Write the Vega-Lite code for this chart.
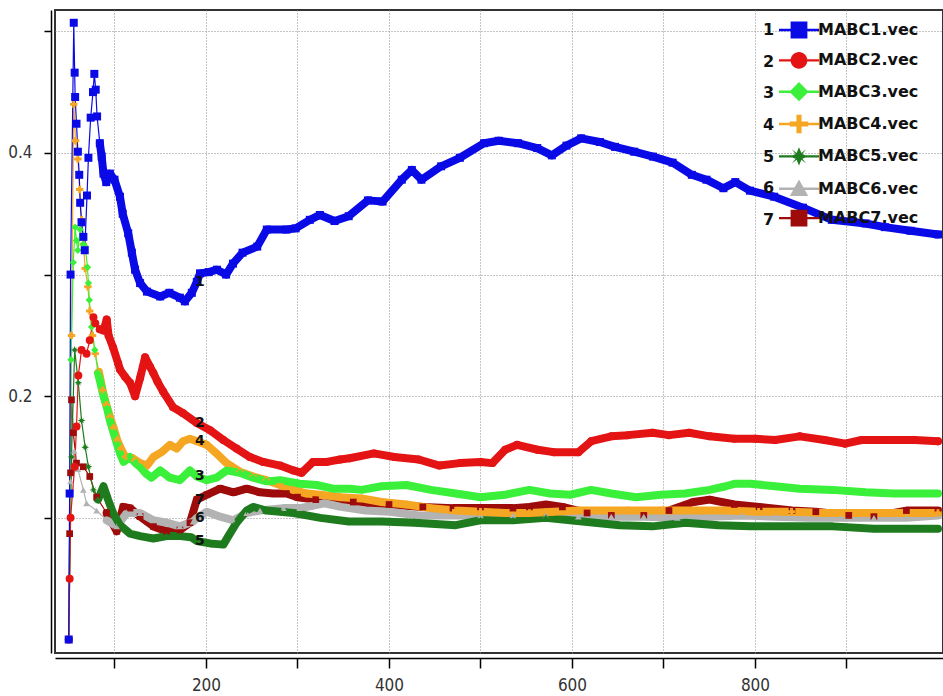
{
  "$schema": "https://vega.github.io/schema/vega-lite/v6.json",
  "width": 888,
  "height": 643,
  "autosize": "none",
  "padding": {"left": 55, "top": 10, "right": 0, "bottom": 43},
  "background": "white",
  "config": {
    "view": {"stroke": "#333", "strokeWidth": 2},
    "legend": {"padding": 0}
  },
  "data": {"values": [
    {"s":"MABC7.vec","n":"7","x":50,"y":0},{"s":"MABC7.vec","n":"7","x":51,"y":0.087},{"s":"MABC7.vec","n":"7","x":52,"y":0.137},{"s":"MABC7.vec","n":"7","x":53,"y":0.197},{"s":"MABC7.vec","n":"7","x":55,"y":0.17},{"s":"MABC7.vec","n":"7","x":58.5,"y":0.145},{"s":"MABC7.vec","n":"7","x":66,"y":0.142},{"s":"MABC7.vec","n":"7","x":73,"y":0.134},{"s":"MABC7.vec","n":"7","x":80.5,"y":0.117},{"s":"MABC7.vec","n":"7","x":91.5,"y":0.104},{"s":"MABC7.vec","n":"7","x":102.5,"y":0.089},{"s":"MABC7.vec","n":"7","x":109.5,"y":0.109},{"s":"MABC7.vec","n":"7","x":117,"y":0.108},{"s":"MABC7.vec","n":"7","x":128,"y":0.101},{"s":"MABC7.vec","n":"7","x":142.5,"y":0.093},{"s":"MABC7.vec","n":"7","x":157,"y":0.089},{"s":"MABC7.vec","n":"7","x":171.5,"y":0.09},{"s":"MABC7.vec","n":"7","x":182.5,"y":0.096},{"s":"MABC7.vec","n":"7","x":190,"y":0.115},{"s":"MABC7.vec","n":"7","x":201,"y":0.119},{"s":"MABC7.vec","n":"7","x":215.5,"y":0.124},{"s":"MABC7.vec","n":"7","x":230,"y":0.121},{"s":"MABC7.vec","n":"7","x":244.5,"y":0.124},{"s":"MABC7.vec","n":"7","x":259,"y":0.121},{"s":"MABC7.vec","n":"7","x":273.5,"y":0.12},{"s":"MABC7.vec","n":"7","x":288,"y":0.12},{"s":"MABC7.vec","n":"7","x":300,"y":0.117},{"s":"MABC7.vec","n":"7","x":320,"y":0.115},{"s":"MABC7.vec","n":"7","x":361,"y":0.113},{"s":"MABC7.vec","n":"7","x":400,"y":0.111},{"s":"MABC7.vec","n":"7","x":437,"y":0.109},{"s":"MABC7.vec","n":"7","x":470,"y":0.108},{"s":"MABC7.vec","n":"7","x":500,"y":0.108},{"s":"MABC7.vec","n":"7","x":535.5,"y":0.108},{"s":"MABC7.vec","n":"7","x":553.5,"y":0.109},{"s":"MABC7.vec","n":"7","x":571.5,"y":0.111},{"s":"MABC7.vec","n":"7","x":589.5,"y":0.109},{"s":"MABC7.vec","n":"7","x":616.5,"y":0.104},{"s":"MABC7.vec","n":"7","x":643,"y":0.102},{"s":"MABC7.vec","n":"7","x":678.5,"y":0.102},{"s":"MABC7.vec","n":"7","x":706,"y":0.106},{"s":"MABC7.vec","n":"7","x":732.5,"y":0.113},{"s":"MABC7.vec","n":"7","x":750.5,"y":0.115},{"s":"MABC7.vec","n":"7","x":777.5,"y":0.111},{"s":"MABC7.vec","n":"7","x":804.5,"y":0.109},{"s":"MABC7.vec","n":"7","x":840.5,"y":0.106},{"s":"MABC7.vec","n":"7","x":866.5,"y":0.105},{"s":"MABC7.vec","n":"7","x":902.5,"y":0.102},{"s":"MABC7.vec","n":"7","x":930,"y":0.101},{"s":"MABC7.vec","n":"7","x":965.5,"y":0.106},{"s":"MABC7.vec","n":"7","x":1000,"y":0.106},

    {"s":"MABC6.vec","n":"6","x":50,"y":0},{"s":"MABC6.vec","n":"6","x":52,"y":0.13},{"s":"MABC6.vec","n":"6","x":56,"y":0.155},{"s":"MABC6.vec","n":"6","x":60,"y":0.14},{"s":"MABC6.vec","n":"6","x":66,"y":0.123},{"s":"MABC6.vec","n":"6","x":69.5,"y":0.112},{"s":"MABC6.vec","n":"6","x":80.5,"y":0.106},{"s":"MABC6.vec","n":"6","x":91.5,"y":0.098},{"s":"MABC6.vec","n":"6","x":102.5,"y":0.093},{"s":"MABC6.vec","n":"6","x":113.5,"y":0.104},{"s":"MABC6.vec","n":"6","x":128,"y":0.104},{"s":"MABC6.vec","n":"6","x":142.5,"y":0.098},{"s":"MABC6.vec","n":"6","x":157,"y":0.096},{"s":"MABC6.vec","n":"6","x":171.5,"y":0.093},{"s":"MABC6.vec","n":"6","x":186,"y":0.097},{"s":"MABC6.vec","n":"6","x":190,"y":0.1},{"s":"MABC6.vec","n":"6","x":201,"y":0.105},{"s":"MABC6.vec","n":"6","x":215.5,"y":0.101},{"s":"MABC6.vec","n":"6","x":230,"y":0.098},{"s":"MABC6.vec","n":"6","x":244.5,"y":0.104},{"s":"MABC6.vec","n":"6","x":259,"y":0.106},{"s":"MABC6.vec","n":"6","x":284.5,"y":0.108},{"s":"MABC6.vec","n":"6","x":302.5,"y":0.108},{"s":"MABC6.vec","n":"6","x":317,"y":0.11},{"s":"MABC6.vec","n":"6","x":329.5,"y":0.112},{"s":"MABC6.vec","n":"6","x":347.5,"y":0.109},{"s":"MABC6.vec","n":"6","x":374.5,"y":0.106},{"s":"MABC6.vec","n":"6","x":401,"y":0.105},{"s":"MABC6.vec","n":"6","x":432.5,"y":0.102},{"s":"MABC6.vec","n":"6","x":464,"y":0.102},{"s":"MABC6.vec","n":"6","x":500,"y":0.102},{"s":"MABC6.vec","n":"6","x":535.5,"y":0.102},{"s":"MABC6.vec","n":"6","x":571.5,"y":0.102},{"s":"MABC6.vec","n":"6","x":607,"y":0.101},{"s":"MABC6.vec","n":"6","x":643,"y":0.101},{"s":"MABC6.vec","n":"6","x":678.5,"y":0.101},{"s":"MABC6.vec","n":"6","x":715,"y":0.1},{"s":"MABC6.vec","n":"6","x":750.5,"y":0.101},{"s":"MABC6.vec","n":"6","x":786.5,"y":0.102},{"s":"MABC6.vec","n":"6","x":822,"y":0.101},{"s":"MABC6.vec","n":"6","x":858,"y":0.1},{"s":"MABC6.vec","n":"6","x":894,"y":0.1},{"s":"MABC6.vec","n":"6","x":930,"y":0.1},{"s":"MABC6.vec","n":"6","x":965.5,"y":0.1},{"s":"MABC6.vec","n":"6","x":1000,"y":0.102},

    {"s":"MABC5.vec","n":"5","x":50,"y":0},{"s":"MABC5.vec","n":"5","x":53,"y":0.15},{"s":"MABC5.vec","n":"5","x":56.5,"y":0.238},{"s":"MABC5.vec","n":"5","x":60.5,"y":0.211},{"s":"MABC5.vec","n":"5","x":64,"y":0.18},{"s":"MABC5.vec","n":"5","x":68,"y":0.158},{"s":"MABC5.vec","n":"5","x":71.5,"y":0.142},{"s":"MABC5.vec","n":"5","x":77,"y":0.123},{"s":"MABC5.vec","n":"5","x":82,"y":0.115},{"s":"MABC5.vec","n":"5","x":88,"y":0.126},{"s":"MABC5.vec","n":"5","x":93,"y":0.115},{"s":"MABC5.vec","n":"5","x":98.5,"y":0.104},{"s":"MABC5.vec","n":"5","x":106,"y":0.094},{"s":"MABC5.vec","n":"5","x":117,"y":0.087},{"s":"MABC5.vec","n":"5","x":128,"y":0.085},{"s":"MABC5.vec","n":"5","x":142.5,"y":0.083},{"s":"MABC5.vec","n":"5","x":157,"y":0.085},{"s":"MABC5.vec","n":"5","x":172,"y":0.085},{"s":"MABC5.vec","n":"5","x":184,"y":0.084},{"s":"MABC5.vec","n":"5","x":190,"y":0.081},{"s":"MABC5.vec","n":"5","x":204.5,"y":0.079},{"s":"MABC5.vec","n":"5","x":219,"y":0.078},{"s":"MABC5.vec","n":"5","x":224.5,"y":0.085},{"s":"MABC5.vec","n":"5","x":233.5,"y":0.096},{"s":"MABC5.vec","n":"5","x":244.5,"y":0.106},{"s":"MABC5.vec","n":"5","x":251.5,"y":0.109},{"s":"MABC5.vec","n":"5","x":266,"y":0.106},{"s":"MABC5.vec","n":"5","x":281,"y":0.105},{"s":"MABC5.vec","n":"5","x":295.5,"y":0.104},{"s":"MABC5.vec","n":"5","x":310,"y":0.102},{"s":"MABC5.vec","n":"5","x":325,"y":0.1},{"s":"MABC5.vec","n":"5","x":356,"y":0.097},{"s":"MABC5.vec","n":"5","x":392,"y":0.097},{"s":"MABC5.vec","n":"5","x":428,"y":0.096},{"s":"MABC5.vec","n":"5","x":473,"y":0.094},{"s":"MABC5.vec","n":"5","x":500,"y":0.098},{"s":"MABC5.vec","n":"5","x":535.5,"y":0.098},{"s":"MABC5.vec","n":"5","x":571.5,"y":0.1},{"s":"MABC5.vec","n":"5","x":598,"y":0.098},{"s":"MABC5.vec","n":"5","x":625,"y":0.096},{"s":"MABC5.vec","n":"5","x":652,"y":0.094},{"s":"MABC5.vec","n":"5","x":688,"y":0.093},{"s":"MABC5.vec","n":"5","x":724,"y":0.096},{"s":"MABC5.vec","n":"5","x":760,"y":0.094},{"s":"MABC5.vec","n":"5","x":795.5,"y":0.093},{"s":"MABC5.vec","n":"5","x":840,"y":0.093},{"s":"MABC5.vec","n":"5","x":885,"y":0.093},{"s":"MABC5.vec","n":"5","x":930,"y":0.091},{"s":"MABC5.vec","n":"5","x":1000,"y":0.091},

    {"s":"MABC4.vec","n":"4","x":50,"y":0},{"s":"MABC4.vec","n":"4","x":53,"y":0.25},{"s":"MABC4.vec","n":"4","x":55.5,"y":0.44},{"s":"MABC4.vec","n":"4","x":57.5,"y":0.41},{"s":"MABC4.vec","n":"4","x":60,"y":0.395},{"s":"MABC4.vec","n":"4","x":62,"y":0.37},{"s":"MABC4.vec","n":"4","x":64,"y":0.345},{"s":"MABC4.vec","n":"4","x":66,"y":0.325},{"s":"MABC4.vec","n":"4","x":68,"y":0.305},{"s":"MABC4.vec","n":"4","x":71,"y":0.29},{"s":"MABC4.vec","n":"4","x":73,"y":0.27},{"s":"MABC4.vec","n":"4","x":76,"y":0.25},{"s":"MABC4.vec","n":"4","x":79,"y":0.235},{"s":"MABC4.vec","n":"4","x":83,"y":0.22},{"s":"MABC4.vec","n":"4","x":87,"y":0.205},{"s":"MABC4.vec","n":"4","x":91,"y":0.193},{"s":"MABC4.vec","n":"4","x":95,"y":0.183},{"s":"MABC4.vec","n":"4","x":99,"y":0.174},{"s":"MABC4.vec","n":"4","x":103,"y":0.164},{"s":"MABC4.vec","n":"4","x":107,"y":0.157},{"s":"MABC4.vec","n":"4","x":112,"y":0.15},{"s":"MABC4.vec","n":"4","x":120,"y":0.149},{"s":"MABC4.vec","n":"4","x":128,"y":0.145},{"s":"MABC4.vec","n":"4","x":135.5,"y":0.143},{"s":"MABC4.vec","n":"4","x":142.5,"y":0.15},{"s":"MABC4.vec","n":"4","x":151.5,"y":0.154},{"s":"MABC4.vec","n":"4","x":160.5,"y":0.16},{"s":"MABC4.vec","n":"4","x":168,"y":0.157},{"s":"MABC4.vec","n":"4","x":175,"y":0.163},{"s":"MABC4.vec","n":"4","x":182.5,"y":0.165},{"s":"MABC4.vec","n":"4","x":190,"y":0.163},{"s":"MABC4.vec","n":"4","x":201,"y":0.16},{"s":"MABC4.vec","n":"4","x":211.5,"y":0.153},{"s":"MABC4.vec","n":"4","x":222.5,"y":0.145},{"s":"MABC4.vec","n":"4","x":237,"y":0.138},{"s":"MABC4.vec","n":"4","x":251.5,"y":0.134},{"s":"MABC4.vec","n":"4","x":266,"y":0.131},{"s":"MABC4.vec","n":"4","x":281,"y":0.127},{"s":"MABC4.vec","n":"4","x":295.5,"y":0.123},{"s":"MABC4.vec","n":"4","x":310,"y":0.12},{"s":"MABC4.vec","n":"4","x":325,"y":0.119},{"s":"MABC4.vec","n":"4","x":347.5,"y":0.117},{"s":"MABC4.vec","n":"4","x":370,"y":0.116},{"s":"MABC4.vec","n":"4","x":392,"y":0.113},{"s":"MABC4.vec","n":"4","x":419,"y":0.111},{"s":"MABC4.vec","n":"4","x":446,"y":0.108},{"s":"MABC4.vec","n":"4","x":473,"y":0.106},{"s":"MABC4.vec","n":"4","x":500,"y":0.105},{"s":"MABC4.vec","n":"4","x":527,"y":0.104},{"s":"MABC4.vec","n":"4","x":553.5,"y":0.104},{"s":"MABC4.vec","n":"4","x":580,"y":0.105},{"s":"MABC4.vec","n":"4","x":607,"y":0.106},{"s":"MABC4.vec","n":"4","x":661,"y":0.106},{"s":"MABC4.vec","n":"4","x":697,"y":0.106},{"s":"MABC4.vec","n":"4","x":768,"y":0.106},{"s":"MABC4.vec","n":"4","x":804,"y":0.105},{"s":"MABC4.vec","n":"4","x":840,"y":0.105},{"s":"MABC4.vec","n":"4","x":876,"y":0.104},{"s":"MABC4.vec","n":"4","x":912,"y":0.104},{"s":"MABC4.vec","n":"4","x":1000,"y":0.104},

    {"s":"MABC3.vec","n":"3","x":50,"y":0},{"s":"MABC3.vec","n":"3","x":52.5,"y":0.23},{"s":"MABC3.vec","n":"3","x":55,"y":0.31},{"s":"MABC3.vec","n":"3","x":57,"y":0.339},{"s":"MABC3.vec","n":"3","x":58.5,"y":0.328},{"s":"MABC3.vec","n":"3","x":60,"y":0.32},{"s":"MABC3.vec","n":"3","x":62.5,"y":0.337},{"s":"MABC3.vec","n":"3","x":66,"y":0.325},{"s":"MABC3.vec","n":"3","x":68,"y":0.323},{"s":"MABC3.vec","n":"3","x":70.5,"y":0.306},{"s":"MABC3.vec","n":"3","x":71.5,"y":0.293},{"s":"MABC3.vec","n":"3","x":72.5,"y":0.279},{"s":"MABC3.vec","n":"3","x":75,"y":0.257},{"s":"MABC3.vec","n":"3","x":78.5,"y":0.238},{"s":"MABC3.vec","n":"3","x":82,"y":0.219},{"s":"MABC3.vec","n":"3","x":85,"y":0.21},{"s":"MABC3.vec","n":"3","x":88,"y":0.2},{"s":"MABC3.vec","n":"3","x":92,"y":0.19},{"s":"MABC3.vec","n":"3","x":95,"y":0.18},{"s":"MABC3.vec","n":"3","x":99,"y":0.17},{"s":"MABC3.vec","n":"3","x":103,"y":0.16},{"s":"MABC3.vec","n":"3","x":106,"y":0.153},{"s":"MABC3.vec","n":"3","x":110,"y":0.146},{"s":"MABC3.vec","n":"3","x":117,"y":0.15},{"s":"MABC3.vec","n":"3","x":123,"y":0.145},{"s":"MABC3.vec","n":"3","x":128,"y":0.142},{"s":"MABC3.vec","n":"3","x":135,"y":0.136},{"s":"MABC3.vec","n":"3","x":140.5,"y":0.133},{"s":"MABC3.vec","n":"3","x":150,"y":0.139},{"s":"MABC3.vec","n":"3","x":160.5,"y":0.133},{"s":"MABC3.vec","n":"3","x":171.5,"y":0.131},{"s":"MABC3.vec","n":"3","x":182.5,"y":0.139},{"s":"MABC3.vec","n":"3","x":190,"y":0.134},{"s":"MABC3.vec","n":"3","x":201,"y":0.131},{"s":"MABC3.vec","n":"3","x":211.5,"y":0.133},{"s":"MABC3.vec","n":"3","x":222.5,"y":0.139},{"s":"MABC3.vec","n":"3","x":237,"y":0.137},{"s":"MABC3.vec","n":"3","x":251.5,"y":0.133},{"s":"MABC3.vec","n":"3","x":266,"y":0.13},{"s":"MABC3.vec","n":"3","x":281,"y":0.131},{"s":"MABC3.vec","n":"3","x":302.5,"y":0.128},{"s":"MABC3.vec","n":"3","x":321,"y":0.127},{"s":"MABC3.vec","n":"3","x":339,"y":0.124},{"s":"MABC3.vec","n":"3","x":357,"y":0.124},{"s":"MABC3.vec","n":"3","x":370,"y":0.123},{"s":"MABC3.vec","n":"3","x":392,"y":0.126},{"s":"MABC3.vec","n":"3","x":419,"y":0.127},{"s":"MABC3.vec","n":"3","x":446,"y":0.123},{"s":"MABC3.vec","n":"3","x":473,"y":0.12},{"s":"MABC3.vec","n":"3","x":500,"y":0.117},{"s":"MABC3.vec","n":"3","x":527,"y":0.119},{"s":"MABC3.vec","n":"3","x":553.5,"y":0.123},{"s":"MABC3.vec","n":"3","x":576,"y":0.12},{"s":"MABC3.vec","n":"3","x":598,"y":0.119},{"s":"MABC3.vec","n":"3","x":621,"y":0.123},{"s":"MABC3.vec","n":"3","x":643,"y":0.12},{"s":"MABC3.vec","n":"3","x":670,"y":0.117},{"s":"MABC3.vec","n":"3","x":697,"y":0.119},{"s":"MABC3.vec","n":"3","x":723.5,"y":0.12},{"s":"MABC3.vec","n":"3","x":750.5,"y":0.123},{"s":"MABC3.vec","n":"3","x":768,"y":0.126},{"s":"MABC3.vec","n":"3","x":777.5,"y":0.128},{"s":"MABC3.vec","n":"3","x":795.5,"y":0.128},{"s":"MABC3.vec","n":"3","x":822,"y":0.126},{"s":"MABC3.vec","n":"3","x":849,"y":0.124},{"s":"MABC3.vec","n":"3","x":885,"y":0.123},{"s":"MABC3.vec","n":"3","x":921,"y":0.121},{"s":"MABC3.vec","n":"3","x":952,"y":0.12},{"s":"MABC3.vec","n":"3","x":1000,"y":0.12},

    {"s":"MABC2.vec","n":"2","x":50,"y":0},{"s":"MABC2.vec","n":"2","x":51,"y":0.05},{"s":"MABC2.vec","n":"2","x":52,"y":0.1},{"s":"MABC2.vec","n":"2","x":56.5,"y":0.142},{"s":"MABC2.vec","n":"2","x":58.5,"y":0.175},{"s":"MABC2.vec","n":"2","x":60.5,"y":0.217},{"s":"MABC2.vec","n":"2","x":64,"y":0.238},{"s":"MABC2.vec","n":"2","x":69.5,"y":0.235},{"s":"MABC2.vec","n":"2","x":73,"y":0.246},{"s":"MABC2.vec","n":"2","x":77,"y":0.265},{"s":"MABC2.vec","n":"2","x":79,"y":0.26},{"s":"MABC2.vec","n":"2","x":84,"y":0.255},{"s":"MABC2.vec","n":"2","x":88,"y":0.254},{"s":"MABC2.vec","n":"2","x":91.5,"y":0.263},{"s":"MABC2.vec","n":"2","x":93.5,"y":0.25},{"s":"MABC2.vec","n":"2","x":98.5,"y":0.24},{"s":"MABC2.vec","n":"2","x":104,"y":0.227},{"s":"MABC2.vec","n":"2","x":106,"y":0.222},{"s":"MABC2.vec","n":"2","x":111.5,"y":0.216},{"s":"MABC2.vec","n":"2","x":117,"y":0.211},{"s":"MABC2.vec","n":"2","x":122.5,"y":0.2},{"s":"MABC2.vec","n":"2","x":128,"y":0.215},{"s":"MABC2.vec","n":"2","x":133.5,"y":0.232},{"s":"MABC2.vec","n":"2","x":139,"y":0.224},{"s":"MABC2.vec","n":"2","x":142.5,"y":0.219},{"s":"MABC2.vec","n":"2","x":147,"y":0.212},{"s":"MABC2.vec","n":"2","x":153,"y":0.204},{"s":"MABC2.vec","n":"2","x":164,"y":0.191},{"s":"MABC2.vec","n":"2","x":175,"y":0.186},{"s":"MABC2.vec","n":"2","x":190,"y":0.178},{"s":"MABC2.vec","n":"2","x":204.5,"y":0.172},{"s":"MABC2.vec","n":"2","x":219,"y":0.164},{"s":"MABC2.vec","n":"2","x":233.5,"y":0.157},{"s":"MABC2.vec","n":"2","x":248,"y":0.15},{"s":"MABC2.vec","n":"2","x":262.5,"y":0.146},{"s":"MABC2.vec","n":"2","x":281,"y":0.143},{"s":"MABC2.vec","n":"2","x":295.5,"y":0.139},{"s":"MABC2.vec","n":"2","x":304.5,"y":0.137},{"s":"MABC2.vec","n":"2","x":317,"y":0.146},{"s":"MABC2.vec","n":"2","x":332,"y":0.146},{"s":"MABC2.vec","n":"2","x":346.5,"y":0.148},{"s":"MABC2.vec","n":"2","x":357,"y":0.149},{"s":"MABC2.vec","n":"2","x":383.5,"y":0.153},{"s":"MABC2.vec","n":"2","x":406,"y":0.15},{"s":"MABC2.vec","n":"2","x":432.5,"y":0.148},{"s":"MABC2.vec","n":"2","x":455,"y":0.143},{"s":"MABC2.vec","n":"2","x":477.5,"y":0.145},{"s":"MABC2.vec","n":"2","x":500,"y":0.146},{"s":"MABC2.vec","n":"2","x":513,"y":0.145},{"s":"MABC2.vec","n":"2","x":527,"y":0.156},{"s":"MABC2.vec","n":"2","x":540,"y":0.16},{"s":"MABC2.vec","n":"2","x":562.5,"y":0.156},{"s":"MABC2.vec","n":"2","x":580,"y":0.154},{"s":"MABC2.vec","n":"2","x":607,"y":0.154},{"s":"MABC2.vec","n":"2","x":621,"y":0.163},{"s":"MABC2.vec","n":"2","x":643,"y":0.167},{"s":"MABC2.vec","n":"2","x":661,"y":0.168},{"s":"MABC2.vec","n":"2","x":688,"y":0.17},{"s":"MABC2.vec","n":"2","x":706,"y":0.168},{"s":"MABC2.vec","n":"2","x":728,"y":0.17},{"s":"MABC2.vec","n":"2","x":750.5,"y":0.167},{"s":"MABC2.vec","n":"2","x":777.5,"y":0.165},{"s":"MABC2.vec","n":"2","x":800,"y":0.165},{"s":"MABC2.vec","n":"2","x":822,"y":0.164},{"s":"MABC2.vec","n":"2","x":849,"y":0.167},{"s":"MABC2.vec","n":"2","x":876,"y":0.164},{"s":"MABC2.vec","n":"2","x":898.5,"y":0.161},{"s":"MABC2.vec","n":"2","x":916.5,"y":0.164},{"s":"MABC2.vec","n":"2","x":943,"y":0.164},{"s":"MABC2.vec","n":"2","x":974.5,"y":0.164},{"s":"MABC2.vec","n":"2","x":1000,"y":0.163},

    {"s":"MABC1.vec","n":"1","x":50,"y":0},{"s":"MABC1.vec","n":"1","x":51,"y":0.12},{"s":"MABC1.vec","n":"1","x":52,"y":0.3},{"s":"MABC1.vec","n":"1","x":55.5,"y":0.507},{"s":"MABC1.vec","n":"1","x":56.5,"y":0.466},{"s":"MABC1.vec","n":"1","x":57,"y":0.446},{"s":"MABC1.vec","n":"1","x":58.5,"y":0.424},{"s":"MABC1.vec","n":"1","x":60,"y":0.401},{"s":"MABC1.vec","n":"1","x":61.5,"y":0.382},{"s":"MABC1.vec","n":"1","x":62.5,"y":0.359},{"s":"MABC1.vec","n":"1","x":64,"y":0.343},{"s":"MABC1.vec","n":"1","x":66,"y":0.331},{"s":"MABC1.vec","n":"1","x":67.5,"y":0.32},{"s":"MABC1.vec","n":"1","x":70,"y":0.365},{"s":"MABC1.vec","n":"1","x":71.5,"y":0.396},{"s":"MABC1.vec","n":"1","x":74,"y":0.429},{"s":"MABC1.vec","n":"1","x":76.5,"y":0.45},{"s":"MABC1.vec","n":"1","x":78,"y":0.465},{"s":"MABC1.vec","n":"1","x":79.5,"y":0.452},{"s":"MABC1.vec","n":"1","x":81,"y":0.43},{"s":"MABC1.vec","n":"1","x":84,"y":0.408},{"s":"MABC1.vec","n":"1","x":86,"y":0.397},{"s":"MABC1.vec","n":"1","x":88,"y":0.383},{"s":"MABC1.vec","n":"1","x":91,"y":0.376},{"s":"MABC1.vec","n":"1","x":95,"y":0.383},{"s":"MABC1.vec","n":"1","x":100,"y":0.378},{"s":"MABC1.vec","n":"1","x":106,"y":0.364},{"s":"MABC1.vec","n":"1","x":109,"y":0.35},{"s":"MABC1.vec","n":"1","x":115,"y":0.334},{"s":"MABC1.vec","n":"1","x":119,"y":0.318},{"s":"MABC1.vec","n":"1","x":122.5,"y":0.304},{"s":"MABC1.vec","n":"1","x":128,"y":0.293},{"s":"MABC1.vec","n":"1","x":135.5,"y":0.286},{"s":"MABC1.vec","n":"1","x":150,"y":0.282},{"s":"MABC1.vec","n":"1","x":160,"y":0.285},{"s":"MABC1.vec","n":"1","x":171.5,"y":0.281},{"s":"MABC1.vec","n":"1","x":177,"y":0.278},{"s":"MABC1.vec","n":"1","x":184.5,"y":0.285},{"s":"MABC1.vec","n":"1","x":190,"y":0.294},{"s":"MABC1.vec","n":"1","x":193.5,"y":0.301},{"s":"MABC1.vec","n":"1","x":203,"y":0.302},{"s":"MABC1.vec","n":"1","x":212,"y":0.304},{"s":"MABC1.vec","n":"1","x":222,"y":0.3},{"s":"MABC1.vec","n":"1","x":229.5,"y":0.309},{"s":"MABC1.vec","n":"1","x":240,"y":0.318},{"s":"MABC1.vec","n":"1","x":256,"y":0.323},{"s":"MABC1.vec","n":"1","x":266.5,"y":0.337},{"s":"MABC1.vec","n":"1","x":288,"y":0.337},{"s":"MABC1.vec","n":"1","x":298,"y":0.338},{"s":"MABC1.vec","n":"1","x":313.5,"y":0.345},{"s":"MABC1.vec","n":"1","x":324.5,"y":0.349},{"s":"MABC1.vec","n":"1","x":340.5,"y":0.344},{"s":"MABC1.vec","n":"1","x":356,"y":0.348},{"s":"MABC1.vec","n":"1","x":377,"y":0.361},{"s":"MABC1.vec","n":"1","x":393,"y":0.36},{"s":"MABC1.vec","n":"1","x":414,"y":0.378},{"s":"MABC1.vec","n":"1","x":425,"y":0.386},{"s":"MABC1.vec","n":"1","x":435.5,"y":0.378},{"s":"MABC1.vec","n":"1","x":457,"y":0.389},{"s":"MABC1.vec","n":"1","x":477.5,"y":0.396},{"s":"MABC1.vec","n":"1","x":504,"y":0.408},{"s":"MABC1.vec","n":"1","x":520,"y":0.41},{"s":"MABC1.vec","n":"1","x":541,"y":0.408},{"s":"MABC1.vec","n":"1","x":562,"y":0.404},{"s":"MABC1.vec","n":"1","x":578,"y":0.398},{"s":"MABC1.vec","n":"1","x":594,"y":0.406},{"s":"MABC1.vec","n":"1","x":610,"y":0.412},{"s":"MABC1.vec","n":"1","x":630.5,"y":0.409},{"s":"MABC1.vec","n":"1","x":647,"y":0.405},{"s":"MABC1.vec","n":"1","x":668,"y":0.401},{"s":"MABC1.vec","n":"1","x":688.5,"y":0.397},{"s":"MABC1.vec","n":"1","x":710,"y":0.392},{"s":"MABC1.vec","n":"1","x":731,"y":0.382},{"s":"MABC1.vec","n":"1","x":747,"y":0.378},{"s":"MABC1.vec","n":"1","x":765.5,"y":0.371},{"s":"MABC1.vec","n":"1","x":778.5,"y":0.376},{"s":"MABC1.vec","n":"1","x":794.5,"y":0.369},{"s":"MABC1.vec","n":"1","x":821,"y":0.364},{"s":"MABC1.vec","n":"1","x":852.5,"y":0.355},{"s":"MABC1.vec","n":"1","x":884,"y":0.345},{"s":"MABC1.vec","n":"1","x":921,"y":0.342},{"s":"MABC1.vec","n":"1","x":942,"y":0.339},{"s":"MABC1.vec","n":"1","x":970,"y":0.336},{"s":"MABC1.vec","n":"1","x":1000,"y":0.333}
  ]},
  "encoding": {
    "x": {"field": "x", "type": "quantitative",
      "scale": {"domain": [35, 1005.5], "nice": false, "zero": false},
      "axis": {"title": null, "values": [100,200,300,400,500,600,700,800,900],
        "labelExpr": "datum.value % 200 === 0 ? datum.label : ''",
        "offset": 5, "tickSize": 10, "tickWidth": 1.5, "tickColor": "#000",
        "domainColor": "#000", "domainWidth": 1.5,
        "labelFont": "Liberation Sans Narrow, DejaVu Sans Condensed, sans-serif",
        "labelFontSize": 17, "labelColor": "#333", "labelPadding": 9,
        "grid": true, "gridDash": [1, 2], "gridColor": "#888", "gridWidth": 1}},
    "y": {"field": "y", "type": "quantitative",
      "scale": {"domain": [-0.0111, 0.5175], "nice": false, "zero": false},
      "axis": {"title": null, "values": [0.1,0.2,0.3,0.4,0.5], "format": ".1f",
        "labelExpr": "(datum.value > 0.15 && datum.value < 0.25) || (datum.value > 0.35 && datum.value < 0.45) ? datum.label : ''",
        "offset": 4, "tickSize": 7, "tickWidth": 1.5, "tickColor": "#000",
        "domainColor": "#000", "domainWidth": 1.5,
        "labelFont": "Liberation Sans Narrow, DejaVu Sans Condensed, sans-serif",
        "labelFontSize": 17, "labelColor": "#333", "labelPadding": 12,
        "grid": true, "gridDash": [1, 2], "gridColor": "#888", "gridWidth": 1}},
    "color": {"field": "s", "type": "nominal",
      "scale": {"domain": ["MABC1.vec","MABC2.vec","MABC3.vec","MABC4.vec","MABC5.vec","MABC6.vec","MABC7.vec"],
        "range": ["#0a0ae6","#e41414","#3af03a","#f5a623","#1e7b1e","#b3b3b3","#9e0b0b"]},
      "legend": {"orient": "none", "legendX": 736, "legendY": 12, "title": null,
        "symbolSize": 256, "symbolOpacity": 1, "symbolStrokeWidth": 0,
        "labelOffset": 11, "labelFont": "DejaVu Sans", "labelFontWeight": "bold",
        "labelFontSize": 16, "labelColor": "#111", "rowPadding": 12.35}}
  },
  "layer": [
    {"mark": {"type": "line", "strokeWidth": 1.2},
     "encoding": {"strokeDash": {"field": "n", "type": "nominal",
        "scale": {"domain": ["1","2","3","4","5","6","7"], "range": [[1,0],[1,0],[1,0],[1,0],[1,0],[1,0],[1,0]]},
        "legend": {"orient": "none", "legendX": 692, "legendY": 12, "title": null,
          "symbolSize": 256, "symbolOpacity": 0, "symbolStrokeWidth": 0,
          "labelOffset": 0, "labelFont": "DejaVu Sans", "labelFontWeight": "bold",
          "labelFontSize": 16, "labelColor": "#111", "rowPadding": 15.65}}}},
    {"transform": [{"filter": "datum.x >= 82"}],
     "mark": {"type": "line", "strokeWidth": 8, "strokeJoin": "round", "strokeCap": "round"}},
    {"transform": [{"filter": "datum.n === '7'"}], "mark": {"type": "point", "filled": true, "opacity": 1, "shape": "square", "size": 45}},
    {"transform": [{"filter": "datum.n === '6'"}], "mark": {"type": "point", "filled": true, "opacity": 1, "shape": "triangle-up", "size": 45}},
    {"transform": [{"filter": "datum.n === '5'"}], "mark": {"type": "point", "filled": true, "opacity": 1, "shape": "M0,-1.1L0.28,-0.4L0.85,-0.85L0.4,-0.28L1.1,0L0.4,0.28L0.85,0.85L0.28,0.4L0,1.1L-0.28,0.4L-0.85,0.85L-0.4,0.28L-1.1,0L-0.4,-0.28L-0.85,-0.85L-0.28,-0.4Z", "size": 50}},
    {"transform": [{"filter": "datum.n === '4'"}], "mark": {"type": "point", "filled": true, "opacity": 1, "shape": "cross", "size": 55}},
    {"transform": [{"filter": "datum.n === '3'"}], "mark": {"type": "point", "filled": true, "opacity": 1, "shape": "diamond", "size": 55}},
    {"transform": [{"filter": "datum.n === '2'"}], "mark": {"type": "point", "filled": true, "opacity": 1, "shape": "circle", "size": 64}},
    {"transform": [{"filter": "datum.n === '1'"}], "mark": {"type": "point", "filled": true, "opacity": 1, "shape": "square", "size": 64}},
    {"transform": [{"filter": "datum.x === 1000"}],
     "mark": {"type": "point", "filled": true, "opacity": 0},
     "encoding": {"shape": {"field": "s", "type": "nominal",
        "scale": {"domain": ["MABC1.vec","MABC2.vec","MABC3.vec","MABC4.vec","MABC5.vec","MABC6.vec","MABC7.vec"],
          "range": [
            "M-2.5,-0.15H2.5V0.15H-2.5ZM-1.05,-1.05H1.05V1.05H-1.05Z",
            "M-2.5,-0.15H2.5V0.15H-2.5ZM1.05,0A1.05,1.05 0 1,1 -1.05,0A1.05,1.05 0 1,1 1.05,0Z",
            "M-2.5,-0.15H2.5V0.15H-2.5ZM0,-1.2L1.2,0L0,1.2L-1.2,0Z",
            "M-2.5,-0.15H2.5V0.15H-2.5ZM-0.32,-1.15H0.32V-0.32H1.15V0.32H0.32V1.15H-0.32V0.32H-1.15V-0.32H-0.32Z",
            "M-2.5,-0.15H2.5V0.15H-2.5ZM0,-1.15L0.3,-0.42L0.9,-0.9L0.42,-0.3L1.15,0L0.42,0.3L0.9,0.9L0.3,0.42L0,1.15L-0.3,0.42L-0.9,0.9L-0.42,0.3L-1.15,0L-0.42,-0.3L-0.9,-0.9L-0.3,-0.42Z",
            "M-2.5,-0.15H2.5V0.15H-2.5ZM0,-1.15L1.15,0.9H-1.15Z",
            "M-2.5,-0.15H2.5V0.15H-2.5ZM-1.05,-1.05H1.05V1.05H-1.05Z"]},
        "legend": {"orient": "none", "legendX": 736, "legendY": 12, "title": null,
          "symbolSize": 256, "symbolOpacity": 1, "symbolStrokeWidth": 0,
          "labelOffset": 11, "labelFont": "DejaVu Sans", "labelFontWeight": "bold",
          "labelFontSize": 16, "labelColor": "#111", "rowPadding": 12.35}}}},
    {"transform": [{"filter": "datum.x === 190"}],
     "mark": {"type": "text", "align": "center", "baseline": "middle", "dx": 3, "font": "DejaVu Sans", "fontWeight": "bold", "fontSize": 14},
     "encoding": {"text": {"field": "n"}, "color": {"value": "#111"}}}
  ]
}
